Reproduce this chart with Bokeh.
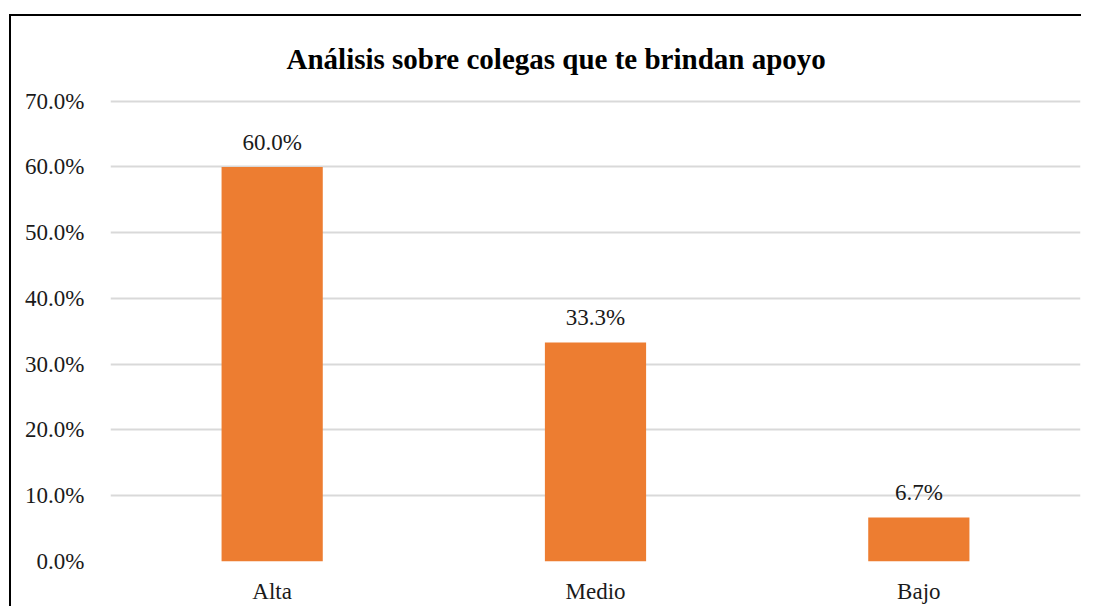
from bokeh.plotting import figure
from bokeh.models import ColumnDataSource, FixedTicker, PrintfTickFormatter, LabelSet, Range1d, FactorRange
from bokeh.core.properties import value
from bokeh.layouts import column
from bokeh.embed import file_html
from bokeh.resources import INLINE

title_text = "Análisis sobre colegas que te brindan apoyo"
categories = ["Alta", "Medio", "Bajo"]
values = [60.0, 33.3, 6.7]
labels = ["60.0%", "33.3%", "6.7%"]
y_ticks = [0, 10, 20, 30, 40, 50, 60, 70]

FONT = "Liberation Serif"

src = ColumnDataSource(dict(cat=categories, val=values, lab=labels))

p = figure(x_range=FactorRange(*categories, range_padding=0), y_range=Range1d(0, 70.4),
           width=1070, height=590, output_backend="svg", toolbar_location=None,
           min_border_left=99, min_border_right=1, min_border_top=82, min_border_bottom=43,
           title=title_text)

p.title.align = "left"
p.title.offset = 176
p.title.standoff = 48
p.title.text_font = FONT
p.title.text_font_size = "29px"
p.title.text_font_style = "bold"
p.title.text_color = "black"

p.vbar(x="cat", top="val", width=0.313, source=src, color="#ED7D31", line_color=None)

p.add_layout(LabelSet(x="cat", y="val", text="lab", source=src, text_align="center",
                      text_baseline="bottom", y_offset=12, text_font=value(FONT),
                      text_font_size=value("23px"), text_color="#1a1a1a"))

p.yaxis.ticker = FixedTicker(ticks=y_ticks)
p.yaxis.formatter = PrintfTickFormatter(format="%.1f%%")
for ax in (p.xaxis, p.yaxis):
    ax.axis_line_color = None
    ax.major_tick_line_color = None
    ax.minor_tick_line_color = None
    ax.major_label_text_font = FONT
    ax.major_label_text_font_size = "23px"
    ax.major_label_text_color = "#1a1a1a"
p.yaxis.major_label_standoff = 20
p.xaxis.major_label_standoff = 11

p.xgrid.grid_line_color = None
p.ygrid.grid_line_color = "#d9d9d9"
p.ygrid.grid_line_width = 2
p.outline_line_color = None

layout = column(p)
layout.styles = {"margin-left": "9px", "margin-top": "14px", "margin-bottom": "-10px",
                 "border-top": "2px solid black", "border-left": "2px solid black"}

open("out.html", "w").write(file_html(layout, INLINE))
